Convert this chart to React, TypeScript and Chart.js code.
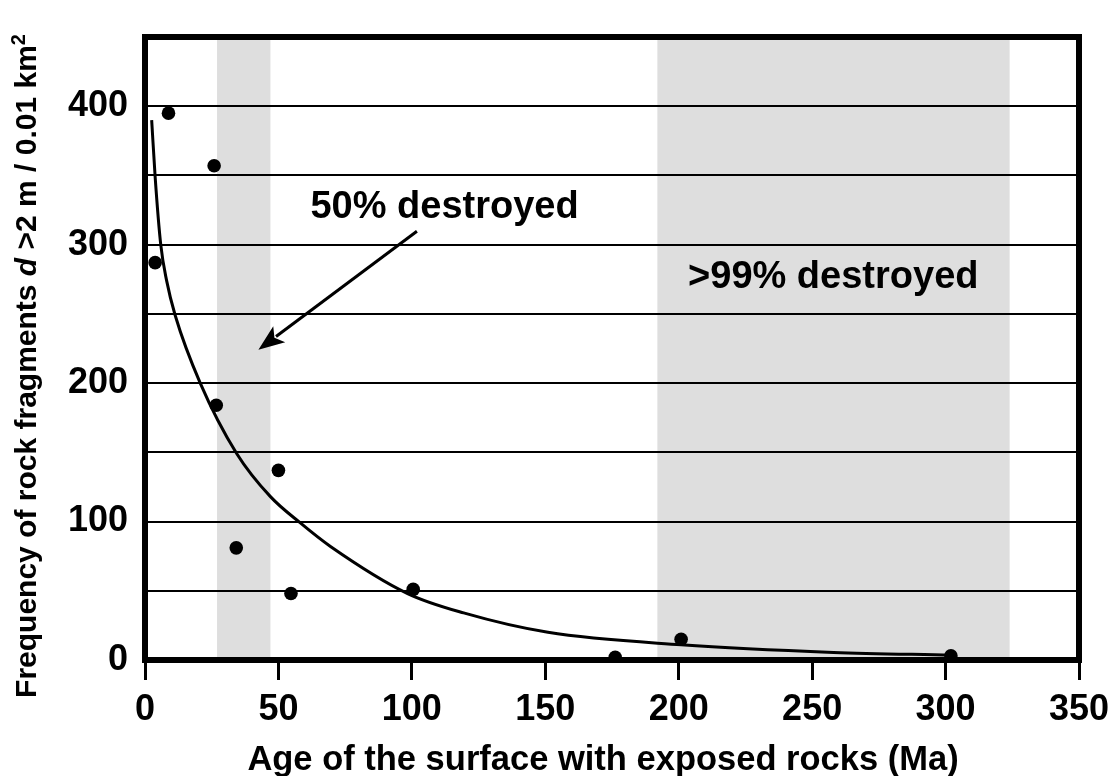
import { useEffect, useRef } from 'react';
import { Chart, registerables } from 'chart.js';

Chart.register(...registerables);

// Observed surfaces: age (Ma) and rock-fragment frequency
const ageMa = [3.8, 8.8, 25.9, 26.7, 34.2, 50, 54.7, 100.5, 176.2, 200.9, 302];
const fragmentFreq = [287, 395, 357, 184, 81, 137, 48, 51, 2, 15, 3];

// Fitted decay curve
const fitAge = [2.5, 3.8, 5.9, 8.1, 11.3, 20.7, 34.4, 47, 58.2, 69.5, 98.4, 119.4, 151, 200.9, 258, 302];
const fitFreq = [390, 349, 300, 274, 249, 200, 149, 118, 99, 82, 48, 34, 20, 11, 5.5, 3.5];

// Axis ticks
const xTickValues = [0, 50, 100, 150, 200, 250, 300, 350];
const yGridValues = [0, 50, 100, 150, 200, 250, 300, 350, 400, 450];
const yTickLabels = [0, 100, 200, 300, 400];

// Shaded age bands
const bandStart = [27, 192];
const bandEnd = [47, 324];
const bandLabels = ['50% destroyed', '>99% destroyed'];

const FONT = '"Liberation Sans", Arial, Helvetica, sans-serif';

export default function App() {
  const ref = useRef<HTMLCanvasElement>(null);

  useEffect(() => {
    const bandsPlugin = {
      id: 'bands',
      beforeDraw(chart: any) {
        const { ctx, chartArea, scales } = chart;
        const x = scales.x;
        ctx.save();
        ctx.fillStyle = '#dedede';
        for (let i = 0; i < bandStart.length; i++) {
          const x1 = x.getPixelForValue(bandStart[i]);
          const x2 = x.getPixelForValue(bandEnd[i]);
          ctx.fillRect(x1, chartArea.top, x2 - x1, chartArea.bottom - chartArea.top);
        }
        ctx.restore();
      },
    };

    const framePlugin = {
      id: 'frame',
      afterDatasetsDraw(chart: any) {
        const { ctx, chartArea } = chart;
        ctx.save();
        ctx.strokeStyle = '#000';
        ctx.lineWidth = 6;
        ctx.strokeRect(chartArea.left, chartArea.top, chartArea.right - chartArea.left, chartArea.bottom - chartArea.top);
        ctx.restore();
      },
    };

    const textPlugin = {
      id: 'texts',
      afterDraw(chart: any) {
        const { ctx, scales } = chart;
        const x = scales.x;
        const y = scales.y;
        ctx.save();
        ctx.fillStyle = '#000';
        ctx.strokeStyle = '#000';

        // band annotations
        ctx.font = `bold 38px ${FONT}`;
        ctx.textAlign = 'left';
        ctx.textBaseline = 'alphabetic';
        ctx.fillText(bandLabels[0], x.getPixelForValue(62), y.getPixelForValue(319.6));
        ctx.fillText(bandLabels[1], x.getPixelForValue(203.5), y.getPixelForValue(269));

        // arrow
        const sx = x.getPixelForValue(101.9);
        const sy = y.getPixelForValue(309.7);
        const tx = x.getPixelForValue(42.5);
        const ty = y.getPixelForValue(224.1);
        const ang = Math.atan2(ty - sy, tx - sx);
        const headLen = 26;
        const headHalf = 10;
        const bx = tx - headLen * Math.cos(ang);
        const by = ty - headLen * Math.sin(ang);
        ctx.lineWidth = 3;
        ctx.beginPath();
        ctx.moveTo(sx, sy);
        ctx.lineTo(bx + 4 * Math.cos(ang), by + 4 * Math.sin(ang));
        ctx.stroke();
        ctx.beginPath();
        ctx.moveTo(tx, ty);
        ctx.lineTo(bx + headHalf * Math.sin(ang), by - headHalf * Math.cos(ang));
        ctx.lineTo(bx + 6 * Math.cos(ang), by + 6 * Math.sin(ang));
        ctx.lineTo(bx - headHalf * Math.sin(ang), by + headHalf * Math.cos(ang));
        ctx.closePath();
        ctx.fill();

        // x axis title
        ctx.font = `bold 34.5px ${FONT}`;
        ctx.textAlign = 'center';
        ctx.textBaseline = 'alphabetic';
        ctx.fillText('Age of the surface with exposed rocks (Ma)', 603, 770);

        // y axis title with italic d and superscript 2
        const fs = 30;
        const parts = [
          { t: 'Frequency of rock fragments ', f: `bold ${fs}px ${FONT}`, dy: 0 },
          { t: 'd', f: `italic bold ${fs}px ${FONT}`, dy: 0 },
          { t: ' >2 m / 0.01 km', f: `bold ${fs}px ${FONT}`, dy: 0 },
          { t: '2', f: `bold ${Math.round(fs * 0.65)}px ${FONT}`, dy: -11 },
        ];
        let total = 0;
        const widths = parts.map((p) => {
          ctx.font = p.f;
          const w = ctx.measureText(p.t).width;
          total += w;
          return w;
        });
        ctx.translate(36, 366);
        ctx.rotate(-Math.PI / 2);
        ctx.textAlign = 'left';
        let cx = -total / 2;
        parts.forEach((p, i) => {
          ctx.font = p.f;
          ctx.fillText(p.t, cx, p.dy);
          cx += widths[i];
        });
        ctx.restore();
      },
    };

    const chart = new Chart(ref.current as HTMLCanvasElement, {
      type: 'scatter',
      data: {
        datasets: [
          {
            type: 'scatter',
            data: ageMa.map((a, i) => ({ x: a, y: fragmentFreq[i] })),
            backgroundColor: '#000',
            borderColor: '#000',
            pointRadius: 6.8,
            pointBorderWidth: 0,
            order: 1,
          },
          {
            type: 'line',
            data: fitAge.map((a, i) => ({ x: a, y: fitFreq[i] })),
            borderColor: '#000',
            borderWidth: 3,
            pointRadius: 0,
            fill: false,
            showLine: true,
            cubicInterpolationMode: 'monotone',
            order: 2,
          } as any,
        ],
      },
      options: {
        responsive: false,
        animation: false,
        layout: { padding: { top: 37, right: 32, left: 0, bottom: 0 } },
        plugins: { legend: { display: false }, tooltip: { enabled: false } },
        scales: {
          x: {
            type: 'linear',
            min: 0,
            max: 350,
            afterBuildTicks: (s: any) => {
              s.ticks = xTickValues.map((v) => ({ value: v }));
            },
            afterFit: (s: any) => {
              s.height = 116;
              s.paddingLeft = 0;
              s.paddingRight = 0;
            },
            grid: {
              drawOnChartArea: false,
              drawTicks: true,
              tickLength: 20,
              tickWidth: 3,
              tickColor: '#000',
            },
            border: { display: false },
            ticks: {
              padding: 8,
              color: '#000',
              maxRotation: 0,
              autoSkip: false,
              font: { family: FONT, size: 36, weight: 'bold' },
            },
          },
          y: {
            type: 'linear',
            min: 0,
            max: 450,
            afterBuildTicks: (s: any) => {
              s.ticks = yGridValues.map((v) => ({ value: v }));
            },
            afterFit: (s: any) => {
              s.width = 145;
              s.paddingTop = 0;
              s.paddingBottom = 0;
            },
            grid: { color: '#000', lineWidth: 2, drawTicks: false },
            border: { display: false },
            ticks: {
              padding: 17,
              color: '#000',
              autoSkip: false,
              font: { family: FONT, size: 36, weight: 'bold' },
              callback: (v: any) => (yTickLabels.includes(Number(v)) ? String(v) : ''),
            },
          },
        },
      },
      plugins: [bandsPlugin, framePlugin, textPlugin],
    });
    return () => chart.destroy();
  }, []);

  return (
    <div style={{ position: 'fixed', left: 0, top: 0, width: 1111, height: 776, background: '#fff' }}>
      <canvas ref={ref} width={1111} height={776} style={{ display: 'block' }} />
    </div>
  );
}
